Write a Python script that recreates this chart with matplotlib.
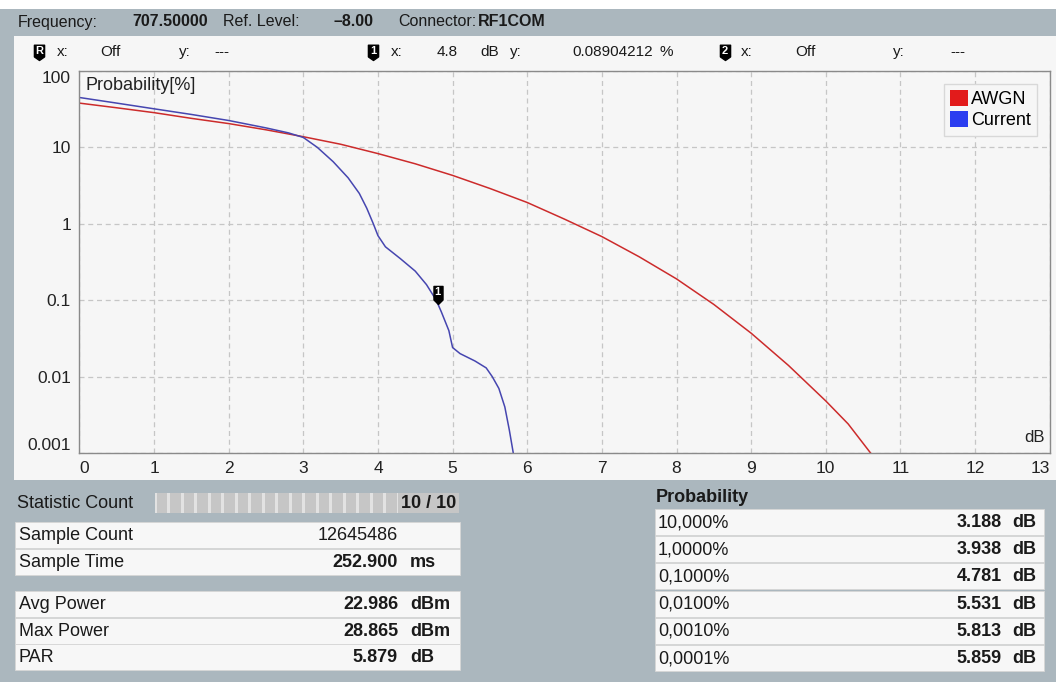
import numpy as np
import matplotlib
matplotlib.use("Agg")
import matplotlib.pyplot as plt
from matplotlib.patches import Rectangle, Patch
from matplotlib.lines import Line2D
from matplotlib.path import Path

plt.rcParams['font.family'] = ['Liberation Sans', 'DejaVu Sans']

# Curva AWGN (CCDF teórica)
awgn_db = [0, 0.5, 1, 1.5, 2, 2.5, 3, 3.5, 4, 4.5, 5, 5.5, 6, 6.5, 7, 7.5, 8, 8.5, 9, 9.5, 10, 10.3, 10.6]
awgn_p = [38, 33, 28.5, 24, 20.5, 17, 13.8, 11, 8.3, 6.1, 4.3, 2.9, 1.9, 1.15, 0.68, 0.37, 0.19,
          0.088, 0.037, 0.014, 0.0048, 0.0024, 0.001]

# Curva medida (Current)
curr_db = [0, 0.5, 1, 1.5, 2, 2.5, 2.8, 3.0, 3.188, 3.4, 3.6, 3.75, 3.85, 3.938, 4.0, 4.1, 4.3, 4.5,
           4.65, 4.781, 4.85, 4.95, 5.0, 5.1, 5.3, 5.45, 5.531, 5.62, 5.7, 5.76, 5.813, 5.84]
curr_p = [45, 38, 32, 27, 22.5, 18, 15.5, 13.5, 10, 6.5, 4.0, 2.5, 1.6, 1.0, 0.7, 0.5, 0.35, 0.24,
          0.16, 0.1, 0.07, 0.04, 0.024, 0.02, 0.016, 0.013, 0.01, 0.007, 0.004, 0.002, 0.001, 0.0006]

marcador_x = 4.8
marcador_y = 0.08904212

xticks = list(range(0, 14))
yticks = [0.001, 0.01, 0.1, 1, 10, 100]
yticklabels = ['0.001', '0.01', '0.1', '1', '10', '100']

# Tablas de abajo
tabla_izq = [("Sample Count", "12645486", ""), ("Sample Time", "252.900", "ms"),
             ("Avg Power", "22.986", "dBm"), ("Max Power", "28.865", "dBm"), ("PAR", "5.879", "dB")]
prob_labels = ["10,000%", "1,0000%", "0,1000%", "0,0100%", "0,0010%", "0,0001%"]
prob_db = ["3.188", "3.938", "4.781", "5.531", "5.813", "5.859"]

W, H = 1056, 682
GRIS = '#abb7be'
PANEL = '#f6f6f6'
fig = plt.figure(figsize=(W / 100, H / 100), dpi=100, facecolor=GRIS)

def fx(x):
    return x / W

def fy(y):
    return 1 - y / H

def caja(x0, y0, x1, y1, color, ec='none', lw=0):
    fig.patches.append(Rectangle((fx(x0), fy(y1)), (x1 - x0) / W, (y1 - y0) / H,
                                 transform=fig.transFigure, facecolor=color,
                                 edgecolor=ec, linewidth=lw, zorder=-1))

def texto(x, y, s, **kw):
    kw.setdefault('va', 'center')
    kw.setdefault('color', '#1a1a1a')
    fig.text(fx(x), fy(y), s, **kw)

# Forma de escudo para los marcadores (punta abajo en el origen)
escudo = Path([(0, 0), (0.5, 0.35), (0.5, 1.5), (-0.5, 1.5), (-0.5, 0.35), (0, 0)],
              [Path.MOVETO, Path.LINETO, Path.LINETO, Path.LINETO, Path.LINETO, Path.CLOSEPOLY])

def icono(x, y, s):
    # y es el centro del escudo, la punta queda 8 px más abajo
    fig.add_artist(Line2D([fx(x)], [fy(y + 8)], marker=escudo, ms=22, color='black',
                          transform=fig.transFigure))
    fig.text(fx(x), fy(y - 1), s, ha='center', va='center', color='white', fontsize=8,
             fontweight='bold')

caja(0, 0, W, 9, 'white')
caja(14, 36, W, 480, PANEL)

# Cabecera
fs_h = 11.5
texto(18, 22, "Frequency:", fontsize=fs_h)
texto(132, 22, "707.50000", fontsize=fs_h, fontweight='bold')
texto(223, 22, "Ref. Level:", fontsize=fs_h)
texto(334, 22, "\u20138.00", fontsize=fs_h, fontweight='bold')
texto(398, 22, "Connector:", fontsize=fs_h)
texto(478, 22, "RF1COM", fontsize=fs_h, fontweight='bold')

# Fila de marcadores
fs_m = 11
ym = 52
icono(39, ym, "R"); texto(57, ym, "x:", fontsize=fs_m); texto(100, ym, "Off", fontsize=fs_m)
texto(179, ym, "y:", fontsize=fs_m); texto(214, ym, "---", fontsize=fs_m)
icono(373, ym, "1"); texto(391, ym, "x:", fontsize=fs_m); texto(458, ym, "4.8", fontsize=fs_m, ha='right')
texto(480, ym, "dB", fontsize=fs_m); texto(510, ym, "y:", fontsize=fs_m)
texto(572, ym, "0.08904212", fontsize=fs_m); texto(660, ym, "%", fontsize=fs_m)
icono(725, ym, "2"); texto(741, ym, "x:", fontsize=fs_m); texto(795, ym, "Off", fontsize=fs_m)
texto(893, ym, "y:", fontsize=fs_m); texto(950, ym, "---", fontsize=fs_m)

# Gráfica
x0, x1, y0, y1 = 79.4, 1049.7, 71, 453
ax = fig.add_axes([fx(x0), fy(y1), (x1 - x0) / W, (y1 - y0) / H])
ax.set_facecolor(PANEL)
ax.set_yscale('log')
ax.set_xlim(0, 13)
ax.set_ylim(0.001, 100)
ax.minorticks_off()
ax.set_xticks(xticks)
ax.set_yticks(yticks)
ax.set_yticklabels(yticklabels)
ax.tick_params(length=0, labelsize=12.5, colors='#222222')
ax.tick_params(axis='x', pad=6)
ax.tick_params(axis='y', pad=6)
ax.grid(True, ls=(0, (4, 3)), color='#c6c6c6', lw=0.9)
for s in ax.spines.values():
    s.set_color('#8a8a8a')
    s.set_linewidth(1)

xl = ax.get_xticklabels()
xl[0].set_ha('left')
xl[-1].set_ha('right')
yl = ax.get_yticklabels()
yl[0].set_va('bottom')
yl[-1].set_va('top')

ax.plot(awgn_db, awgn_p, color='#cc2b2b', lw=1.1)
ax.plot(curr_db, curr_p, color='#4646b0', lw=1.1)

# Marcador 1
forma = Path([(0, 0), (0.5, 0.5), (0.5, 2), (-0.5, 2), (-0.5, 0.5), (0, 0)],
             [Path.MOVETO, Path.LINETO, Path.LINETO, Path.LINETO, Path.LINETO, Path.CLOSEPOLY])
ax.plot(marcador_x, marcador_y, marker=forma, ms=26, color='black', zorder=5)
ax.annotate("1", (marcador_x, marcador_y), xytext=(0, 9), textcoords='offset points',
            ha='center', va='center', color='white', fontsize=8, fontweight='bold', zorder=6)

ax.text(0.006, 0.985, "Probability[%]", transform=ax.transAxes, fontsize=13,
        va='top', ha='left', color='#222222')
ax.text(0.995, 0.02, "dB", transform=ax.transAxes, fontsize=12,
        va='bottom', ha='right', color='#222222')

ax.legend(handles=[Patch(facecolor='#e21b1b', label='AWGN'),
                   Patch(facecolor='#2b3df0', label='Current')],
          loc='upper right', fontsize=13, fancybox=False, framealpha=1,
          edgecolor='#d8d8d8', facecolor=PANEL, handlelength=1.0, handleheight=1.0,
          handletextpad=0.15, labelspacing=0.15, borderpad=0.35, borderaxespad=0.7)

# Statistic Count
fs_t = 13
texto(17, 503, "Statistic Count", fontsize=fs_t)
caja(155, 493, 459, 513, '#e2e2e2')
bordes = np.linspace(155, 398, 19)
for a, b in zip(bordes[:-1], bordes[1:]):
    caja(a + 1.5, 493, b - 1.5, 513, '#c6c6c6')
caja(398, 493, 459, 513, '#c6c6c6')
texto(456, 503, "10 / 10", fontsize=fs_t, fontweight='bold', ha='right')

# Tabla izquierda
filas_y = [522, 549, 591, 618, 644]
for (nombre, valor, unidad), yt in zip(tabla_izq, filas_y):
    caja(15, yt, 460, yt + 26, '#f7f7f7', ec='#d6d6d6', lw=0.6)
    texto(19, yt + 13.5, nombre, fontsize=fs_t)
    peso = 'normal' if unidad == "" else 'bold'
    texto(398, yt + 13.5, valor, fontsize=fs_t, ha='right', fontweight=peso)
    if unidad:
        texto(410, yt + 13.5, unidad, fontsize=fs_t, fontweight='bold')

# Tabla derecha
texto(656, 498, "Probability", fontsize=fs_t, fontweight='bold')
for i, (p, v) in enumerate(zip(prob_labels, prob_db)):
    yt = 509 + i * 27.2
    caja(655, yt, 1044, yt + 26, '#f7f7f7', ec='#d6d6d6', lw=0.6)
    texto(658, yt + 13.5, p, fontsize=fs_t)
    texto(1002, yt + 13.5, v, fontsize=fs_t, ha='right', fontweight='bold')
    texto(1012, yt + 13.5, "dB", fontsize=fs_t, fontweight='bold')

fig.savefig("out.png", dpi=100, facecolor=GRIS)
